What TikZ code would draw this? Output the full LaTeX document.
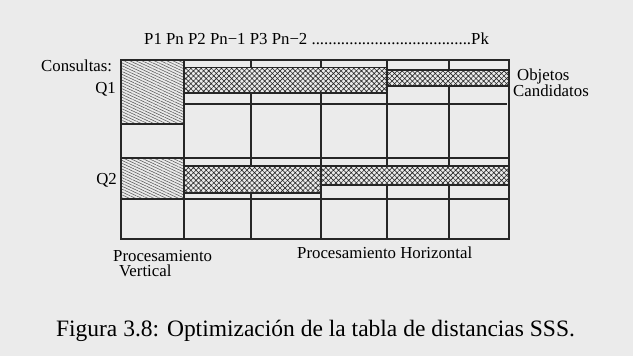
\documentclass[tikz,border=0pt]{standalone}
\usepackage{fontspec}
\setmainfont{Liberation Serif}
\usetikzlibrary{patterns,patterns.meta}
\definecolor{bg}{HTML}{EBEBEB}
\definecolor{ink}{HTML}{262626}
\begin{document}
\begin{tikzpicture}[x=1pt,y=-1pt,
  gridline/.style={draw=ink,line width=1.1pt},
  lbl/.style={inner sep=0pt,font=\fontsize{16.8}{18}\selectfont,text=black},
  hatchbox/.style={draw=ink,line width=1.1pt,preaction={fill=bg},
    pattern={Lines[angle=-25,distance=2.6pt,line width=0.55pt]},pattern color=gray!70!black},
  crossband/.style={draw=ink,line width=1.1pt,preaction={fill=bg},
    pattern={Hatch[angle=45,distance=3.6pt,line width=0.6pt]},pattern color=ink}]
\fill[bg] (0,0) rectangle (633,356);
\useasboundingbox (0,0) rectangle (633,356);
% grid lines
\foreach \x in {184,251,321,387,449} \draw[gridline] (\x,60) -- (\x,239);
\draw[gridline] (184,104) -- (507,104);
\draw[gridline] (121,124) -- (184,124);
\draw[gridline] (121,158) -- (509,158);
\draw[gridline] (121,199) -- (509,199);
\draw[gridline] (121,60) rectangle (509,239);
% vertical processing boxes
\path[hatchbox] (121,60) rectangle (184,124);
\path[hatchbox] (121,158) rectangle (184,199);
% horizontal processing bands
\path[crossband] (184,67.7) rectangle (387,93);
\path[crossband] (387,70) rectangle (509,86);
\path[crossband] (184,166) rectangle (321,193);
\path[crossband] (321,166) rectangle (509,185);
% labels
\node[lbl,anchor=base west] (ptop) at (144,44) {P1 Pn P2 Pn−1 P3 Pn−2 ......................................Pk};
\node[lbl,anchor=base west] (cons) at (41,71.7) {Consultas:};
\node[lbl,anchor=base east] (q1) at (116,93) {Q1};
\node[lbl,anchor=base east] (q2) at (117,184) {Q2};
\node[lbl,anchor=base west,align=left,font=\fontsize{16.8}{16.7}\selectfont] (obj) at (513,96.7) {\hspace*{4pt}Objetos\\Candidatos};
\node[lbl,anchor=base west,align=left,font=\fontsize{16.8}{15}\selectfont] (pv) at (113,276) {Procesamiento\\\hspace*{6pt}Vertical};
\node[lbl,anchor=base west] (ph) at (297,258) {Procesamiento Horizontal};
\node[inner sep=0pt,anchor=base,font=\fontsize{23.5}{26}\selectfont,text=black] (cap) at (315.5,336) {Figura 3.8: Optimización de la tabla de distancias SSS.};
\end{tikzpicture}
\end{document}
